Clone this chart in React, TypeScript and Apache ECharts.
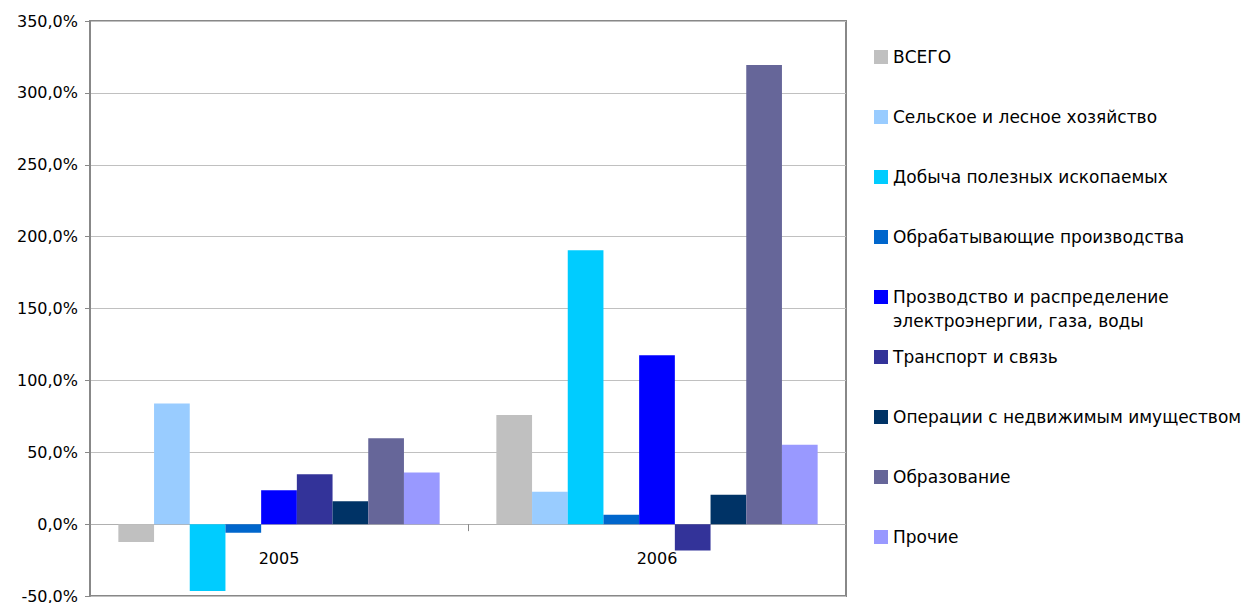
import React, { useEffect, useRef } from "react";
import * as echarts from "echarts";

const categories = ["2005", "2006"];
const seriesNames = [
  "ВСЕГО",
  "Сельское и лесное хозяйство",
  "Добыча полезных ископаемых",
  "Обрабатывающие производства",
  "Прозводство и распределение электроэнергии, газа, воды",
  "Транспорт и связь",
  "Операции с недвижимым имуществом",
  "Образование",
  "Прочие",
];
const legendLabels = [
  "ВСЕГО",
  "Сельское и лесное хозяйство",
  "Добыча полезных ископаемых",
  "Обрабатывающие производства",
  "Прозводство и распределение",
  "Транспорт и связь",
  "Операции с недвижимым имуществом",
  "Образование",
  "Прочие",
];
const legendSecondLine = "электроэнергии, газа, воды";
const values2005 = [-12.5, 84.0, -46.5, -6.0, 23.5, 34.7, 16.0, 59.7, 36.0];
const values2006 = [76.0, 22.5, 190.6, 6.5, 117.4, -18.4, 20.4, 319.4, 55.3];
const colors = [
  "#C0C0C0",
  "#99CCFF",
  "#00CCFF",
  "#0066CC",
  "#0000FF",
  "#333399",
  "#003366",
  "#666699",
  "#9999FF",
];
const yTicks = { min: -50, max: 350, interval: 50 };

const FONT = "'DejaVu Sans', 'Noto Sans', sans-serif";

export default function App() {
  const ref = useRef<HTMLDivElement>(null);
  useEffect(() => {
    if (!ref.current) return;
    const chart = echarts.init(ref.current, null, { renderer: "svg" });
    const series = seriesNames.map((name, i) => ({
      name,
      type: "bar",
      data: [values2005[i], values2006[i]],
      itemStyle: { color: colors[i] },
      barGap: "0%",
      barCategoryGap: "15%",
    }));
    chart.setOption({
      animation: false,
      color: colors,
      textStyle: { fontFamily: FONT },
      grid: {
        left: 90,
        top: 21,
        right: 407,
        bottom: 7,
        show: true,
        borderColor: "#888888",
        borderWidth: 2,
        containLabel: false,
        outerBoundsMode: "none",
      },
      legend: {
        orient: "vertical",
        left: 874,
        top: 47,
        padding: 0,
        itemWidth: 14,
        itemHeight: 14,
        itemGap: 40,
        icon: "rect",
        selectedMode: false,
        data: seriesNames,
        formatter: (name: string) => legendLabels[seriesNames.indexOf(name)],
        textStyle: {
          fontFamily: FONT,
          fontSize: 17,
          color: "#000000",
          lineHeight: 20,
        },
      },
      xAxis: {
        type: "category",
        data: categories,
        axisLine: { onZero: true, lineStyle: { color: "#B0B0B0", width: 1 } },
        axisTick: { show: true, length: 7, lineStyle: { color: "#888888" } },
        axisLabel: { show: false },
        splitLine: { show: false },
      },
      yAxis: {
        type: "value",
        min: yTicks.min,
        max: yTicks.max,
        interval: yTicks.interval,
        axisLine: { show: true, lineStyle: { color: "#888888", width: 2 } },
        axisTick: { show: true, length: 5, lineStyle: { color: "#888888" } },
        axisLabel: {
          margin: 12,
          fontFamily: FONT,
          fontSize: 16,
          color: "#000000",
          formatter: (v: number) => v.toFixed(1).replace(".", ",") + "%",
        },
        splitLine: { show: true, lineStyle: { color: "#C0C0C0", width: 1 } },
      },
      series,
    });

    const y0 = chart.convertToPixel({ yAxisIndex: 0 }, 0) as number;
    const catTexts = categories.map((c) => ({
      type: "text",
      x: chart.convertToPixel({ xAxisIndex: 0 }, c) as number,
      y: y0 + 34,
      style: {
        text: c,
        fontFamily: FONT,
        fontSize: 16,
        fill: "#000000",
        align: "center",
        verticalAlign: "middle",
      },
    }));
    chart.setOption({
      graphic: [
        {
          type: "text",
          left: 893,
          top: 312,
          style: {
            text: legendSecondLine,
            fontFamily: FONT,
            fontSize: 17,
            fill: "#000000",
          },
        },
        ...catTexts,
      ],
    });
    return () => chart.dispose();
  }, []);
  return (
    <div
      ref={ref}
      style={{ width: 1253, height: 603, position: "absolute", left: 0, top: 0 }}
    />
  );
}
